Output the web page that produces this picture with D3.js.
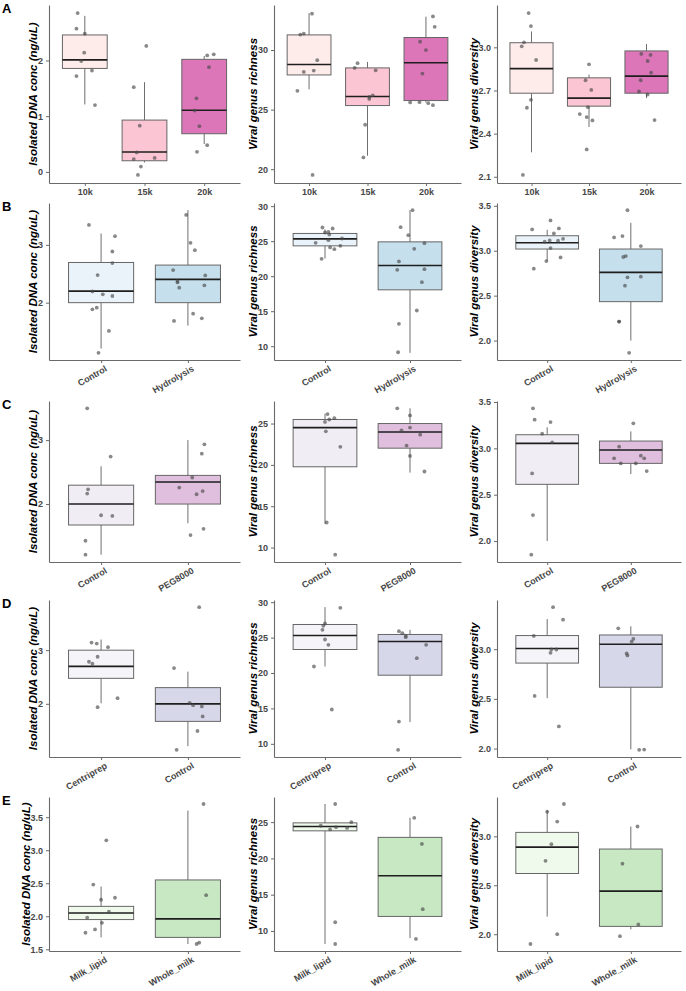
<!DOCTYPE html>
<html><head><meta charset="utf-8">
<script src="https://cdn.jsdelivr.net/npm/d3@7"></script>
<style>body{margin:0;background:#fff} svg{display:block} text{font-family:"Liberation Sans",Arial,sans-serif}</style>
</head><body><svg id="c" width="686" height="991"></svg>
<script>
// ---------- DATA ----------
// box stats: [lower whisker, Q1, median, Q3, upper whisker]; points: [value, jitter (category units)]
const groupsA = ["10k", "15k", "20k"];
const groupsB = ["Control", "Hydrolysis"];
const groupsC = ["Control", "PEG8000"];
const groupsD = ["Centriprep", "Control"];
const groupsE = ["Milk_lipid", "Whole_milk"];

const paletteA = ["#fde0dd", "#fa9fb5", "#c51b8a"];
const paletteB = ["#deebf7", "#9ecae1"];
const paletteC = ["#e7e1ef", "#c994c7"];
const paletteD = ["#efedf5", "#bcbddc"];
const paletteE = ["#e5f5e0", "#a1d99b"];

const metricTitles = ["Isolated DNA conc (ng/uL)", "Viral genus richness", "Viral genus diversity"];

const dnaA_box = [[1.21, 1.857, 2.01, 2.458, 2.80], [0.17, 0.20, 0.357, 0.93, 1.61], [0.50, 0.685, 1.107, 2.02, 2.08]];
const dnaA_pts = [
  [[2.85,-0.12],[2.57,-0.14],[2.48,0],[2.14,-0.01],[1.99,-0.06],[1.82,0.12],[1.72,-0.14],[1.20,0.17]],
  [[2.26,0.03],[1.52,-0.18],[0.83,-0.08],[0.35,-0.13],[0.23,-0.18],[0.25,0.17],[0.095,-0.06],[-0.054,-0.11]],
  [[2.11,0.16],[2.09,0.05],[1.88,0.08],[1.32,-0.13],[1.10,-0.16],[0.82,-0.08],[0.48,0.05],[0.36,-0.12]]];
const richA_box = [[26.7, 27.91, 28.79, 31.27, 33.1], [21.13, 25.34, 26.1, 28.5, 29.0], [25.6, 25.76, 28.93, 31.05, 32.8]];
const richA_pts = [
  [[33.05,0.05],[31.38,-0.09],[31.3,-0.15],[29.15,0.14],[28.28,0.08],[28.16,-0.09],[26.58,-0.2],[19.52,0.06]],
  [[28.9,-0.17],[28.5,-0.22],[28.3,0.14],[26.2,0.09],[26.07,0.03],[25.9,0.03],[23.73,-0.04],[20.99,-0.07]],
  [[32.82,0.12],[31.95,0.15],[30.7,-0.1],[30.0,0],[28.02,-0.06],[25.6,-0.27],[25.62,-0.11],[25.54,0.04],[25.37,0.12]]];
const divA_box = [[2.27, 2.681, 2.852, 3.032, 3.11], [2.446, 2.591, 2.647, 2.788, 2.81], [2.647, 2.681, 2.80, 2.975, 3.023]];
const divA_pts = [
  [[3.238,-0.05],[3.148,-0.01],[3.035,-0.13],[3.007,-0.17],[2.912,0.08],[2.635,-0.01],[2.58,-0.08],[2.113,-0.15]],
  [[2.882,0],[2.771,-0.06],[2.704,0.04],[2.584,-0.02],[2.536,-0.16],[2.515,-0.04],[2.492,0.06],[2.29,-0.04]],
  [[2.954,-0.09],[2.947,0.07],[2.905,0.02],[2.824,0.08],[2.771,-0.1],[2.693,-0.13],[2.672,0.02],[2.494,0.14]]];

const dnaB_box = [[1.207, 2.0, 2.2, 2.695, 3.195], [1.603, 2.0, 2.402, 2.65, 3.6]];
const dnaB_pts = [
  [[3.345,-0.14],[3.15,0.16],[2.885,0.13],[2.684,0.13],[2.477,-0.04],[2.195,-0.1],[2.144,0.02],[2.115,0.13],[1.914,-0.05],[1.885,-0.1],[1.511,0.09],[1.132,-0.03]],
  [[3.517,-0.02],[3.034,0.03],[2.908,0.08],[2.563,-0.17],[2.471,0.2],[2.374,-0.12],[2.35,-0.12],[2.259,-0.1],[2.3,0.19],[1.81,0.06],[1.73,0.16],[1.684,-0.16]]];
const richB_box = [[22.52, 24.33, 25.33, 26.1, 26.67], [9.05, 18.05, 21.52, 24.9, 29.43]];
const richB_pts = [
  [[26.95,-0.03],[26.81,0.09],[26.33,0.04],[26.24,0],[25.95,0.05],[25.38,0.2],[25.14,0.04],[24.76,-0.11],[24.33,0.18],[24.1,0.06],[23.86,0.11],[22.48,-0.04]],
  [[29.43,0.03],[27.0,-0.11],[25.86,-0.02],[24.71,0.17],[23.9,0.05],[22.1,-0.13],[21.0,0.17],[20.9,-0.15],[19.14,0.14],[15.1,0.08],[13.19,-0.13],[9.14,-0.14]]];
const divB_box = [[2.889, 3.019, 3.089, 3.167, 3.233], [2.0, 2.433, 2.759, 3.019, 3.311]];
const divB_pts = [
  [[3.337,0.04],[3.237,-0.18],[3.248,0.14],[3.193,0.08],[3.133,0.19],[3.111,0.13],[3.115,0.03],[3.1,-0.03],[3.03,0.04],[2.926,0.16],[2.885,-0.01],[2.8,-0.16]],
  [[3.452,-0.04],[3.163,-0.1],[3.148,-0.2],[3.052,0.12],[2.941,-0.06],[2.93,-0.09],[2.704,-0.04],[2.711,0.12],[2.611,-0.07],[2.211,-0.14],[2.211,-0.14],[1.863,-0.02]]];

const dnaC_box = [[1.208, 1.672, 2.0, 2.295, 2.59], [1.7, 2.0, 2.344, 2.448, 3.0]];
const dnaC_pts = [
  [[3.497,-0.16],[2.743,0.11],[2.23,-0.15],[2.164,-0.16],[1.825,0],[1.814,0.13],[1.426,-0.18],[1.208,-0.18]],
  [[2.934,0.19],[2.787,0.16],[2.415,0.05],[2.257,-0.1],[2.202,0.17],[2.153,0.1],[1.612,0.18],[1.514,0.03]]];
const richC_box = [[12.86, 19.77, 24.51, 25.49, 26.2], [19.07, 22.02, 23.98, 25.0, 26.84]];
const richC_pts = [
  [[26.14,0.03],[25.65,0.11],[25.49,0.05],[25.2,0],[24.06,0.01],[22.18,0.18],[13.03,0.02],[9.14,0.12]],
  [[26.84,-0.15],[25.98,0],[24.51,0],[24.18,-0.1],[23.65,0.12],[22.34,-0.04],[21.08,0],[19.2,0.17]]];
const divC_box = [[2.0, 2.612, 3.054, 3.147, 3.227], [2.723, 2.838, 2.982, 3.079, 3.183]];
const divC_pts = [
  [[3.432,-0.17],[3.309,-0.15],[3.284,0.04],[3.158,-0.06],[3.065,0.06],[2.73,-0.18],[2.28,-0.17],[1.853,-0.19]],
  [[3.27,0.03],[3.018,-0.14],[2.892,-0.2],[2.921,0.12],[2.892,0.16],[2.838,-0.12],[2.838,0.06],[2.755,0.19]]];

const dnaD_box = [[2.01, 2.475, 2.698, 3.0, 3.198], [1.21, 1.673, 2.0, 2.302, 2.6]];
const dnaD_pts = [
  [[3.142,-0.11],[3.123,-0.05],[3.056,0.08],[2.877,-0.04],[2.784,-0.14],[2.747,-0.1],[2.105,0.19],[1.938,-0.04]],
  [[3.802,0.13],[2.667,-0.16],[2.019,0.02],[1.975,0.06],[1.951,0.16],[1.765,0.17],[1.494,0.11],[1.142,-0.13]]];
const richD_box = [[20.92, 23.32, 25.29, 26.85, 29.3], [13.06, 19.69, 24.45, 25.44, 26.1]];
const richD_pts = [
  [[29.2,0.18],[26.99,0],[26.66,-0.02],[26.09,-0.03],[24.73,0],[23.98,0.04],[20.92,-0.13],[14.85,0.08]],
  [[25.91,-0.13],[25.62,-0.09],[25.06,-0.05],[25.25,-0.05],[23.98,0.19],[22.09,0.08],[13.15,-0.13],[9.15,-0.14]]];
const divD_box = [[2.507, 2.86, 3.007, 3.137, 3.303], [1.993, 2.617, 3.05, 3.143, 3.23]];
const divD_pts = [
  [[3.423,0.07],[3.297,0.19],[3.133,-0.16],[2.997,0.11],[2.997,0.05],[2.963,0.04],[2.53,-0.15],[2.223,0.14]],
  [[3.21,-0.15],[3.103,0.03],[3.077,0.01],[2.957,-0.05],[2.937,-0.04],[1.987,0.1],[1.99,0.16]]];

const dnaE_box = [[1.68, 1.95, 2.05, 2.15, 2.45], [1.58, 1.68, 1.96, 2.55, 3.6]];
const dnaE_pts = [
  [[3.15,0.06],[2.48,-0.09],[2.28,0.16],[2.25,0],[2.07,0.09],[1.98,-0.16],[1.9,0.01],[1.8,-0.07],[1.75,-0.18]],
  [[3.7,0.18],[2.32,0.21],[1.6,0.13],[1.58,0.1]]];
const richE_box = [[8.2, 23.8, 24.4, 24.9, 27.5], [9.0, 12.0, 17.6, 22.9, 25.6]];
const richE_pts = [
  [[27.5,0.12],[25.0,0.31],[24.5,-0.05],[24.3,0.13],[24.2,0.26],[24.0,0.06],[11.2,0.12],[8.2,0.12]],
  [[25.6,0.05],[22.0,0.14],[13.0,0.15],[8.9,0.07]]];
const divE_box = [[2.18, 2.62, 2.89, 3.04, 3.27], [2.05, 2.08, 2.44, 2.87, 3.1]];
const divE_pts = [
  [[3.33,0.2],[3.25,0.0],[3.15,0.12],[2.92,0.05],[2.75,-0.02],[2.0,0.12],[1.9,-0.2]],
  [[3.1,0.08],[2.72,-0.1],[2.1,0.09],[1.98,-0.13]]];

const ticksDna  = [[0,1,2],[2,3],[2,3],[2,3],[1.5,2.0,2.5,3.0,3.5]];
const ticksRich = [[20,25,30],[10,15,20,25,30],[10,15,20,25],[10,15,20,25,30],[10,15,20,25]];
const ticksDiv  = [[2.1,2.4,2.7,3.0],[2.0,2.5,3.0,3.5],[2.0,2.5,3.0,3.5],[2.0,2.5,3.0],[2.0,2.5,3.0]];

// ---------- LAYOUT ----------
const rowDefs = [
  {label:"A", groups:groupsA, pal:paletteA, top:5,   bottom:183, rot:false, data:[[dnaA_box,dnaA_pts],[richA_box,richA_pts],[divA_box,divA_pts]]},
  {label:"B", groups:groupsB, pal:paletteB, top:203, bottom:360, rot:true,  data:[[dnaB_box,dnaB_pts],[richB_box,richB_pts],[divB_box,divB_pts]]},
  {label:"C", groups:groupsC, pal:paletteC, top:401, bottom:562, rot:true,  data:[[dnaC_box,dnaC_pts],[richC_box,richC_pts],[divC_box,divC_pts]]},
  {label:"D", groups:groupsD, pal:paletteD, top:600, bottom:757, rot:true,  data:[[dnaD_box,dnaD_pts],[richD_box,richD_pts],[divD_box,divD_pts]]},
  {label:"E", groups:groupsE, pal:paletteE, top:797, bottom:951, rot:true,  data:[[dnaE_box,dnaE_pts],[richE_box,richE_pts],[divE_box,divE_pts]]}
];
const tickSets = [ticksDna, ticksRich, ticksDiv];
const colDefs = [{left:49, right:240},{left:274, right:461},{left:497, right:681}];

const svg = d3.select("#c");
const axisCol = "#6a6a6a", tickTxt = "#474747";

rowDefs.forEach((row, ri) => {
  svg.append("text").attr("x", 2).attr("y", row.top + 8).attr("font-size", 13).attr("font-weight", "bold")
    .attr("fill", "#000").text(row.label);

  row.data.forEach(([boxes, pts], ci) => {
    const col = colDefs[ci];
    const g = svg.append("g");
    const x = d3.scalePoint().domain(row.groups).range([col.left, col.right]).padding(0.6);
    const step = x.step();
    const allVals = [];
    boxes.forEach(b => allVals.push(...b));
    pts.forEach(p => p.forEach(d => allVals.push(d[0])));
    const [mn, mx] = d3.extent(allVals);
    const pad = (mx - mn) * 0.05;
    const y = d3.scaleLinear().domain([mn - pad, mx + pad]).range([row.bottom, row.top]);
    const ticks = tickSets[ci][ri];
    const dec = ticks.some(t => !Number.isInteger(t)) ? 1 : 0;

    // boxes
    const bw = step * 0.75;
    row.groups.forEach((grp, gi) => {
      const b = boxes[gi], cx = x(grp);
      const bg = g.append("g");
      bg.append("line").attr("x1", cx).attr("x2", cx).attr("y1", y(b[3])).attr("y2", y(b[4]))
        .attr("stroke", "#6e6e6e").attr("stroke-width", 1);
      bg.append("line").attr("x1", cx).attr("x2", cx).attr("y1", y(b[1])).attr("y2", y(b[0]))
        .attr("stroke", "#6e6e6e").attr("stroke-width", 1);
      bg.append("rect").attr("x", cx - bw/2).attr("width", bw).attr("y", y(b[3])).attr("height", y(b[1]) - y(b[3]))
        .attr("fill", row.pal[gi]).attr("fill-opacity", 0.6).attr("stroke", "#666").attr("stroke-width", 1);
      bg.append("line").attr("x1", cx - bw/2).attr("x2", cx + bw/2).attr("y1", y(b[2])).attr("y2", y(b[2]))
        .attr("stroke", "#1e1e1e").attr("stroke-width", 1.6);
    });
    // points
    row.groups.forEach((grp, gi) => {
      g.append("g").selectAll("circle").data(pts[gi]).join("circle")
        .attr("cx", d => x(grp) + d[1] * step).attr("cy", d => y(d[0])).attr("r", 1.9)
        .attr("fill", "#4a4a4a").attr("fill-opacity", 0.65);
    });

    // axes
    const ya = g.append("g").attr("transform", `translate(${col.left},0)`)
      .call(d3.axisLeft(y).tickValues(ticks).tickSize(3).tickSizeOuter(0).tickFormat(d3.format(`.${dec}f`)));
    const xa = g.append("g").attr("transform", `translate(0,${row.bottom})`)
      .call(d3.axisBottom(x).tickSize(3).tickSizeOuter(0));
    [ya, xa].forEach(a => {
      a.select(".domain").attr("stroke", axisCol).attr("stroke-width", 1.1);
      a.selectAll(".tick line").attr("stroke", axisCol);
      a.selectAll(".tick text").attr("fill", tickTxt).attr("font-size", 9).attr("font-weight", "bold")
        .attr("font-family", '"Liberation Sans", Arial, sans-serif');
    });
    if (row.rot) {
      xa.selectAll(".tick text").attr("y", 0).attr("x", 0).attr("dy", "0.71em")
        .attr("text-anchor", "end").attr("transform", "translate(3,5) rotate(-30)");
    }
    // tick label width -> title position
    let maxW = 0;
    ya.selectAll(".tick text").each(function () { maxW = Math.max(maxW, this.getBBox().width); });
    const tx = col.left - 6 - maxW - 5;

    // y title
    svg.append("text")
      .attr("transform", `translate(${tx},${(row.top + row.bottom) / 2}) rotate(-90)`)
      .attr("dy", "0.35em").attr("text-anchor", "middle")
      .attr("font-size", 11.5).attr("font-weight", "bold").attr("font-style", "italic").attr("fill", "#000")
      .text(metricTitles[ci]);
  });
});
</script></body></html>
